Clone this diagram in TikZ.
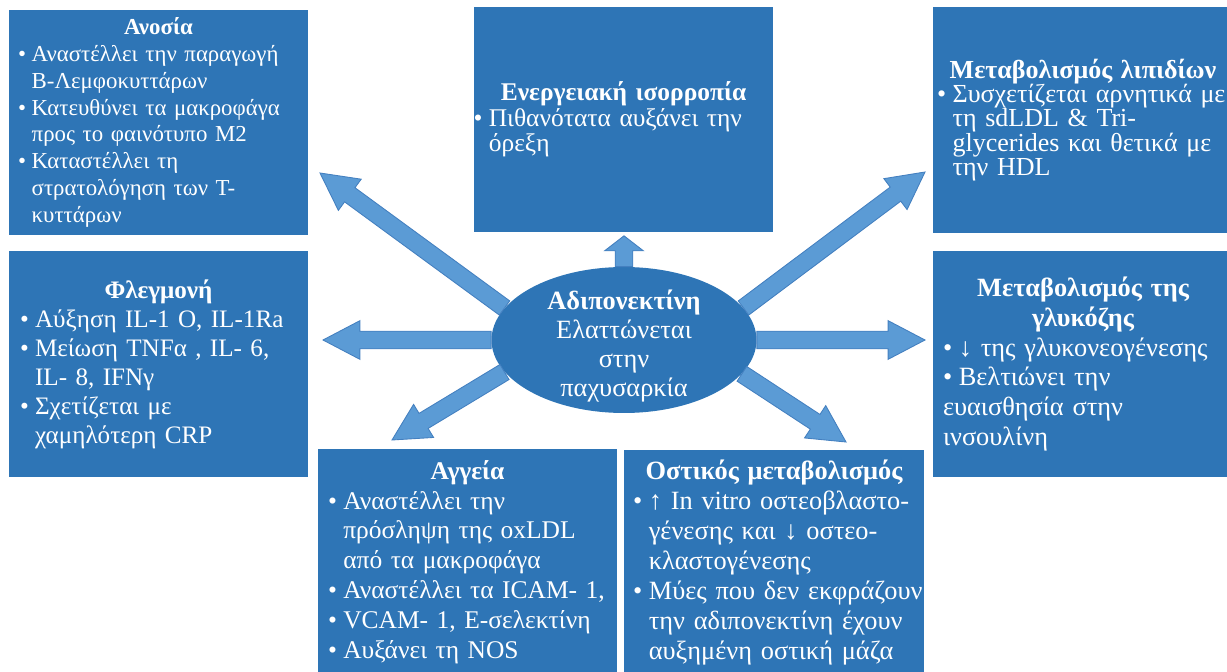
\documentclass[tikz,border=0pt]{standalone}
\usepackage{fontspec}
\setmainfont{Liberation Serif}
\usetikzlibrary{shapes.geometric,calc}

\definecolor{boxblue}{RGB}{46,117,182}
\definecolor{arrowblue}{RGB}{91,155,213}
\definecolor{arrowline}{RGB}{68,128,192}

\tikzset{
    box/.style={fill=boxblue, text=white, minimum width=6cm, minimum height=4.52cm, inner sep=0pt, align=left},
    blockarr/.style={fill=arrowblue, draw=arrowline, line width=0.5pt},
}

% fixed line spacing, even when lines are tight
\lineskiplimit=-100pt

% bullet with hanging indent #1, lines may run a bit past the right margin
\newcommand\bul[1][0.6em]{\noindent\hangindent=#1\hangafter=1\rightskip=-20pt plus 1fil\relax\makebox[0.6em][l]{•}\ignorespaces}

% block arrow from #2 to #3, head length #1
\newcommand\blockarrow[3][21pt]{%
    \coordinate (neck) at ($(#3)!#1!(#2)$);
    \filldraw[blockarr] ($(#2)!\shaftw!90:(#3)$) -- ($(neck)!\shaftw!-90:(#2)$) -- ($(neck)!\headw!-90:(#2)$)
        -- (#3) -- ($(neck)!\headw!90:(#2)$) -- ($(neck)!\shaftw!90:(#2)$) -- ($(#2)!\shaftw!-90:(#3)$) -- cycle;
}

\begin{document}
\begin{tikzpicture}[x=0.02cm, y=-0.02cm]
        \useasboundingbox (0,0) rectangle (1227,672);
        \def\shaftw{5pt}
        \def\headw{11pt}

        % the boxes
        \node[box, text width=5.62cm, font=\fontsize{13}{15.3}\selectfont] (immune) at (158.5,122.5) {%
            {\centering\bfseries Ανοσία\par}
            \bul Αναστέλλει την παραγωγή\newline Β-Λεμφοκυττάρων\par
            \bul Κατευθύνει τα μακροφάγα\newline προς το φαινότυπο Μ2\par
            \bul Καταστέλλει τη\newline στρατολόγηση των Τ-\newline κυττάρων\par};
        \node[box, text width=6cm, font=\fontsize{14.5}{14.5}\selectfont] (energy) at (623.5,119.5) {%
            {\centering\bfseries Ενεργειακή ισορροπία\par}
            \bul Πιθανότατα αυξάνει την\newline όρεξη\par};
        \node[box, text width=5.84cm, font=\fontsize{14.8}{13.8}\selectfont] (lipid) at (1083,120) {%
            {\centering\bfseries Μεταβολισμός λιπιδίων\par}
            \bul Συσχετίζεται αρνητικά με\newline τη sdLDL \& Tri-\newline glycerides και θετικά με\newline την HDL\par};
        \node[box, text width=5.54cm, font=\fontsize{14.3}{16.5}\selectfont] (inflam) at (158.5,364) {%
            {\centering\bfseries Φλεγμονή\par}
            \bul Αύξηση IL-1 Ο, IL-1Ra\par
            \bul Μείωση TNFα , IL- 6,\newline IL- 8, IFNγ\par
            \bul Σχετίζεται με\newline χαμηλότερη CRP\par};
        \node[box, text width=5.6cm, font=\fontsize{15}{17}\selectfont] (glucose) at (1083,364) {%
            {\centering\bfseries Μεταβολισμός της\\γλυκόζης\par}
            \bul ↓ της γλυκονεογένεσης\par
            \bul[0pt] Βελτιώνει την\newline ευαισθησία στην\newline ινσουλίνη\par};
        \node[box, text width=5.58cm, font=\fontsize{14.5}{17}\selectfont] (vessel) at (467.5,562) {%
            {\centering\bfseries Αγγεία\par}
            \bul Αναστέλλει την\newline πρόσληψη της oxLDL\newline από τα μακροφάγα\par
            \bul Αναστέλλει τα ICAM- 1,\par
            \bul VCAM- 1, Ε-σελεκτίνη\par
            \bul Αυξάνει τη NOS\par};
        \node[box, text width=5.64cm, font=\fontsize{15}{17}\selectfont] (bone) at (774,562.5) {%
            {\centering\bfseries Οστικός μεταβολισμός\par}
            \bul ↑ In vitro οστεοβλαστο-\newline γένεσης και ↓ οστεο-\newline κλαστογένεσης\par
            \bul Μύες που δεν εκφράζουν\newline την αδιπονεκτίνη έχουν\newline αυξημένη οστική μάζα\par};

        % adiponectin in the middle
        \node[ellipse, fill=boxblue, minimum width=5.3cm, minimum height=2.92cm, inner sep=0pt] (adipo) at (624,340) {};
        \node[text=white, align=center, font=\fontsize{15}{16.5}\selectfont] (adipotext) at (624,346)
            {\textbf{Αδιπονεκτίνη}\\Ελαττώνεται\\στην\\παχυσαρκία};

        % arrow tips
        \coordinate (tipimmune) at (320,173);
        \coordinate (tipenergy) at ($(adipo.north |- energy.south)+(0,3)$);
        \coordinate (tiplipid) at (925,172);
        \coordinate (tipinflam) at (323,340);
        \coordinate (tipglucose) at (925,340);
        \coordinate (tipvessel) at (392,440);
        \coordinate (tipbone) at (846,442);

        % arrows out of the ellipse
        \blockarrow{adipo.165}{tipimmune}
        \blockarrow[8.5pt]{adipo.north}{tipenergy}
        \blockarrow{adipo.15}{tiplipid}
        \blockarrow{adipo.west}{tipinflam}
        \blockarrow{adipo.east}{tipglucose}
        \blockarrow{adipo.195}{tipvessel}
        \blockarrow{adipo.-16}{tipbone}
\end{tikzpicture}
\end{document}
